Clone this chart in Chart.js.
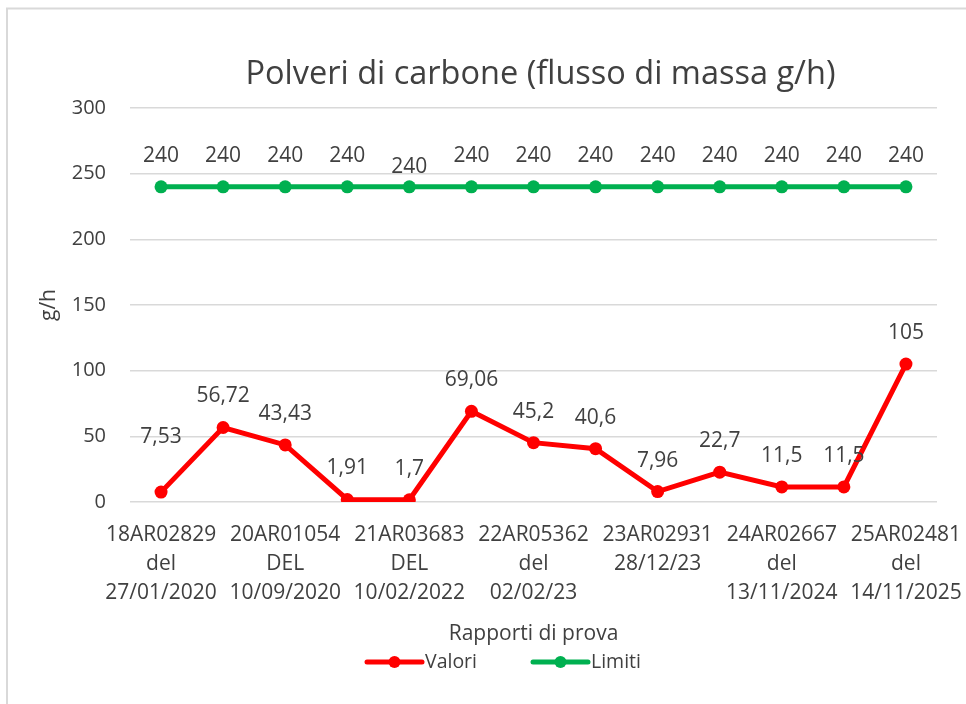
<!DOCTYPE html>
<html>
<head>
<meta charset="utf-8">
<script src="https://cdn.jsdelivr.net/npm/chart.js@4.4.1/dist/chart.umd.min.js"></script>
<style>
  html, body { margin: 0; padding: 0; background: #ffffff; }
  #wrap { position: absolute; left: 0; top: 0; width: 966px; height: 704px; }
</style>
</head>
<body>
<div id="wrap"><canvas id="c" width="966" height="704"></canvas></div>
<script>
// ---- data ----
const categories = [
  ["18AR02829", "del", "27/01/2020"],
  "",
  ["20AR01054", "DEL", "10/09/2020"],
  "",
  ["21AR03683", "DEL", "10/02/2022"],
  "",
  ["22AR05362", "del", "02/02/23"],
  "",
  ["23AR02931", "28/12/23"],
  "",
  ["24AR02667", "del", "13/11/2024"],
  "",
  ["25AR02481", "del", "14/11/2025"]
];
const valori = [7.53, 56.72, 43.43, 1.91, 1.7, 69.06, 45.2, 40.6, 7.96, 22.7, 11.5, 11.5, 105];
const limiti = [240, 240, 240, 240, 240, 240, 240, 240, 240, 240, 240, 240, 240];
const yTicks = [0, 50, 100, 150, 200, 250, 300];
const chartTitle = "Polveri di carbone (flusso di massa g/h)";
const xTitle = "Rapporti di prova";
const yTitle = "g/h";

const FONT = "'Open Sans', 'Noto Sans', sans-serif";
const TEXT = "#404040";
const RED = "#FF0000";
const GREEN = "#00B050";

// label offsets (pixels above point) - styling only
const labelOffsetDefault = 31;
const labelOffsetOverride = { 0: { 0: 55 }, 1: { 4: 20 } };

const framePlugin = {
  id: 'frame',
  beforeDraw(chart) {
    const ctx = chart.ctx;
    ctx.save();
    ctx.fillStyle = '#ffffff';
    ctx.fillRect(0, 0, chart.width, chart.height);
    ctx.strokeStyle = '#d9d9d9';
    ctx.lineWidth = 2;
    ctx.beginPath();
    ctx.moveTo(7, chart.height);
    ctx.lineTo(7, 8.5);
    ctx.lineTo(chart.width, 8.5);
    ctx.stroke();
    ctx.restore();
  }
};

const titlePlugin = {
  id: 'customTitle',
  afterDraw(chart) {
    const ctx = chart.ctx;
    const a = chart.chartArea;
    ctx.save();
    ctx.font = "32.5px " + FONT;
    ctx.fillStyle = TEXT;
    ctx.textAlign = 'center';
    ctx.textBaseline = 'middle';
    ctx.fillText(chartTitle, (a.left + a.right) / 2 + 7, 75);
    ctx.restore();
  }
};

const labelPlugin = {
  id: 'dataLabels',
  afterDatasetsDraw(chart) {
    const ctx = chart.ctx;
    ctx.save();
    ctx.font = "21px " + FONT;
    ctx.fillStyle = TEXT;
    ctx.textAlign = 'center';
    ctx.textBaseline = 'middle';
    chart.data.datasets.forEach((ds, di) => {
      const meta = chart.getDatasetMeta(di);
      meta.data.forEach((pt, i) => {
        const ov = labelOffsetOverride[di] && labelOffsetOverride[di][i];
        const off = ov !== undefined ? ov : labelOffsetDefault;
        const txt = String(ds.data[i]).replace('.', ',');
        ctx.fillText(txt, pt.x, pt.y - off);
      });
    });
    ctx.restore();
  }
};

const legendPlugin = {
  id: 'customLegend',
  afterDraw(chart) {
    const ctx = chart.ctx;
    const y = 662;
    const items = [
      { x: 367, ds: chart.data.datasets[0] },
      { x: 533, ds: chart.data.datasets[1] }
    ];
    ctx.save();
    ctx.font = "19.5px " + FONT;
    ctx.textBaseline = 'middle';
    ctx.textAlign = 'left';
    items.forEach(it => {
      ctx.strokeStyle = it.ds.borderColor;
      ctx.lineWidth = 5;
      ctx.lineCap = 'round';
      ctx.beginPath();
      ctx.moveTo(it.x, y);
      ctx.lineTo(it.x + 55, y);
      ctx.stroke();
      ctx.fillStyle = it.ds.borderColor;
      ctx.beginPath();
      ctx.arc(it.x + 27.5, y, 6, 0, Math.PI * 2);
      ctx.fill();
      ctx.fillStyle = TEXT;
      ctx.fillText(it.ds.label, it.x + 58, y);
    });
    ctx.restore();
  }
};

new Chart(document.getElementById('c'), {
  type: 'line',
  data: {
    labels: categories,
    datasets: [
      {
        label: 'Valori', data: valori,
        borderColor: RED, backgroundColor: RED,
        borderWidth: 5, pointRadius: 6.5, pointBorderWidth: 0,
        pointBackgroundColor: RED, tension: 0
      },
      {
        label: 'Limiti', data: limiti,
        borderColor: GREEN, backgroundColor: GREEN,
        borderWidth: 5, pointRadius: 6.5, pointBorderWidth: 0,
        pointBackgroundColor: GREEN, tension: 0
      }
    ]
  },
  options: {
    responsive: false,
    animation: false,
    layout: { padding: { left: 32, right: 29, top: 108, bottom: 53 } },
    plugins: {
      legend: { display: false },
      title: { display: false },
      tooltip: { enabled: false }
    },
    scales: {
      x: {
        offset: true,
        grid: { display: false, drawTicks: false },
        border: { display: false },
        ticks: {
          autoSkip: false, maxRotation: 0, minRotation: 0,
          padding: 19,
          color: TEXT,
          font: { family: FONT, size: 21, lineHeight: 1.38 }
        },
        title: {
          display: true, text: xTitle, color: TEXT,
          font: { family: FONT, size: 21 }, padding: { top: 4, bottom: 4 }
        },
        afterFit(scale) {
          scale.height = 149;
          scale.paddingLeft = 0;
          scale.paddingRight = 0;
        }
      },
      y: {
        min: 0, max: 300,
        afterBuildTicks(scale) { scale.ticks = yTicks.map(v => ({ value: v })); },
        grid: { color: '#d9d9d9', lineWidth: 1.5, drawTicks: false },
        border: { display: false },
        ticks: {
          padding: 24, color: TEXT,
          font: { family: FONT, size: 20 }
        },
        title: {
          display: true, text: yTitle, color: TEXT,
          font: { family: FONT, size: 21 }, padding: { top: 4, bottom: 4 }
        },
        afterFit(scale) {
          scale.width = 98;
          scale.paddingTop = 0;
          scale.paddingBottom = 0;
        }
      }
    }
  },
  plugins: [framePlugin, labelPlugin, titlePlugin, legendPlugin]
});
</script>
</body>
</html>
